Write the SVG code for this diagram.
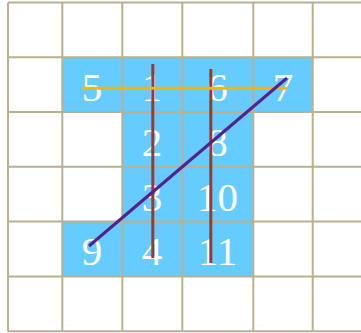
<svg xmlns="http://www.w3.org/2000/svg" width="361" height="333" viewBox="0 0 361 333">
<style>
.cell{fill:#66ccff}
.num{font-family:"Liberation Serif","Times New Roman",serif;font-size:41px;fill:#ffffff;text-anchor:middle}
.grid{stroke:#b8b08f;stroke-width:2;fill:none}
.red{stroke:#a83232;stroke-width:3}
.yel{stroke:#f2b705;stroke-width:3}
.pur{stroke:#55208f;stroke-width:3}
</style>
<rect width="361" height="333" fill="#ffffff"/>
<g id="n5"><rect class="cell" x="62" y="57" width="60" height="55"/><text class="num" x="92" y="101">5</text></g>
<g id="n1"><rect class="cell" x="122" y="57" width="60" height="55"/><text class="num" x="152" y="101">1</text></g>
<g id="n6"><rect class="cell" x="182" y="57" width="71" height="55"/><text class="num" x="217.5" y="101">6</text></g>
<g id="n7"><rect class="cell" x="253" y="57" width="60" height="55"/><text class="num" x="283" y="101">7</text></g>
<g id="n2"><rect class="cell" x="122" y="112" width="60" height="55"/><text class="num" x="152" y="156">2</text></g>
<g id="n8"><rect class="cell" x="182" y="112" width="71" height="55"/><text class="num" x="217.5" y="156">8</text></g>
<g id="n3"><rect class="cell" x="122" y="167" width="60" height="55"/><text class="num" x="152" y="211">3</text></g>
<g id="n10"><rect class="cell" x="182" y="167" width="71" height="55"/><text class="num" x="217.5" y="211">10</text></g>
<g id="n9"><rect class="cell" x="62" y="221" width="60" height="55"/><text class="num" x="92" y="265">9</text></g>
<g id="n4"><rect class="cell" x="122" y="221" width="60" height="55"/><text class="num" x="152" y="265">4</text></g>
<g id="n11"><rect class="cell" x="182" y="221" width="71" height="55"/><text class="num" x="217.5" y="265">11</text></g>
<g id="grid" class="grid">
<path d="M8 2.5H361M8 57.3H361M8 112H361M8 166.8H361M8 221.6H361M8 276.4H361M8 331.2H361"/>
<path d="M8 2.5V331.2M62.3 2.5V331.2M122.3 2.5V331.2M182.3 2.5V331.2M253.3 2.5V331.2M312.7 2.5V331.2"/>
</g>
<g id="connectors">
<line class="red" x1="152.8" y1="64" x2="152.8" y2="258"/>
<line class="red" x1="210.8" y1="69" x2="210.8" y2="263"/>
<line class="yel" x1="82" y1="88.3" x2="288" y2="88.3"/>
<line class="pur" x1="89" y1="246" x2="287" y2="78"/>
</g>
</svg>
